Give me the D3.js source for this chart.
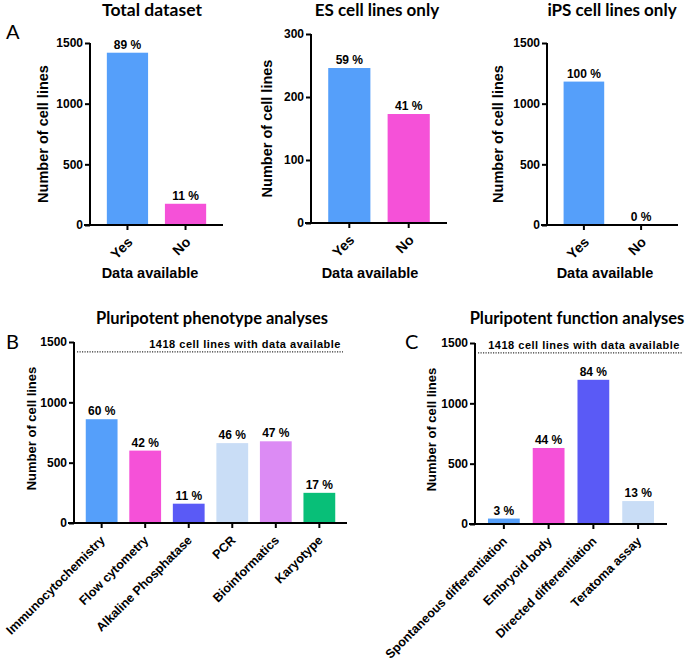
<!DOCTYPE html>
<html><head><meta charset="utf-8">
<script src="https://cdn.jsdelivr.net/npm/d3@7"></script>
<style>
html,body{margin:0;padding:0;background:#fff;}
svg{display:block;}
.tick text{font-family:"Liberation Sans",Arial,sans-serif;font-weight:bold;font-size:12px;fill:#000;}
</style></head>
<body>
<svg id="chart" width="685" height="664"></svg>
<script>
// ---------- data ----------
const availCats = ["Yes", "No"];
const totalValues = [1420, 175];
const totalPct = ["89 %", "11 %"];
const esValues = [246, 173];
const esPct = ["59 %", "41 %"];
const ipsValues = [1182, 0];
const ipsPct = ["100 %", "0 %"];

const phenoCats = ["Immunocytochemistry", "Flow cytometry", "Alkaline Phosphatase", "PCR", "Bioinformatics", "Karyotype"];
const phenoValues = [860, 600, 160, 662, 677, 250];
const phenoPct = ["60 %", "42 %", "11 %", "46 %", "47 %", "17 %"];

const funcCats = ["Spontaneous differentiation", "Embryoid body", "Directed differentiation", "Teratoma assay"];
const funcValues = [45, 630, 1195, 190];
const funcPct = ["3 %", "44 %", "84 %", "13 %"];

const refValue = 1418;
const refLabel = "1418 cell lines with data available";
const ticks1500 = [0, 500, 1000, 1500];
const ticks300 = [0, 100, 200, 300];

// ---------- styles ----------
const C_BLUE = "#559ffa", C_PINK = "#f551d8", C_INDIGO = "#5a5af6",
      C_PALE = "#c9ddf6", C_LAV = "#dc8bf4", C_GREEN = "#08bf78";
const ARIAL = "'Liberation Sans', Arial, sans-serif";
const TITLEF = "Lato, 'Open Sans', sans-serif";

const svg = d3.select("#chart");

function panel(o) {
  const g = svg.append("g");
  const x = d3.scaleBand().domain(o.cats).range([o.x0, o.x1]).padding(o.pad);
  const y = d3.scaleLinear().domain([0, o.ymax]).range([o.y0, o.y1]);

  // bars
  g.selectAll("rect.bar").data(o.values).join("rect")
    .attr("class", "bar")
    .attr("x", (d, i) => x(o.cats[i]))
    .attr("width", x.bandwidth())
    .attr("y", d => y(d))
    .attr("height", d => y(0) - y(d))
    .attr("fill", (d, i) => o.colors[i]);

  // percentage labels
  g.selectAll("text.pct").data(o.values).join("text")
    .attr("class", "pct")
    .attr("x", (d, i) => x(o.cats[i]) + x.bandwidth() / 2)
    .attr("y", d => y(d) - 4)
    .attr("text-anchor", "middle")
    .attr("font-family", ARIAL).attr("font-weight", "bold").attr("font-size", 12)
    .text((d, i) => o.pct[i]);

  // reference line
  if (o.ref) {
    g.append("line")
      .attr("x1", o.x0 + 3).attr("x2", o.refEnd)
      .attr("y1", y(refValue)).attr("y2", y(refValue))
      .attr("stroke", "#000").attr("stroke-width", 1).attr("stroke-dasharray", "1.2,1.3");
    g.append("text")
      .attr("x", o.refTextEnd).attr("y", y(refValue) - 4)
      .attr("text-anchor", "end")
      .attr("font-family", ARIAL).attr("font-weight", "bold").attr("font-size", 11)
      .attr("letter-spacing", "0.5px")
      .text(refLabel);
  }

  // y axis
  const ya = g.append("g").attr("transform", `translate(${o.x0},0)`)
    .call(d3.axisLeft(y).tickValues(o.ticks).tickSize(5).tickPadding(2).tickFormat(d3.format("d")));
  ya.select(".domain").attr("stroke-width", 2).attr("d", `M0,${o.y0 + 1}V${o.y1}`);
  ya.selectAll(".tick line").attr("stroke-width", 2);

  // x axis
  const xa = g.append("g").attr("transform", `translate(0,${o.y0})`)
    .call(d3.axisBottom(x).tickSize(5).tickFormat(""));
  xa.select(".domain").attr("stroke-width", 2).attr("d", `M${o.x0 - 6},0H${o.x1}`);
  xa.selectAll(".tick line").attr("stroke-width", 2);

  // rotated category labels
  g.selectAll("text.cat").data(o.cats).join("text")
    .attr("class", "cat")
    .attr("transform", d => `translate(${x(d) + x.bandwidth() / 2 + o.ldx},${o.y0 + o.ldy}) rotate(-45)`)
    .attr("text-anchor", "end")
    .attr("font-family", ARIAL).attr("font-weight", "bold").attr("font-size", o.catSize)
    .text(d => d);

  // y title
  g.append("text")
    .attr("transform", `translate(${o.ytx},${(o.y0 + o.y1) / 2 + o.ytdy}) rotate(-90)`)
    .attr("text-anchor", "middle")
    .attr("font-family", ARIAL).attr("font-weight", "bold").attr("font-size", o.ytSize)
    .text("Number of cell lines");

  // x title
  if (o.xTitle) {
    g.append("text")
      .attr("x", o.xtx).attr("y", o.xty)
      .attr("text-anchor", "middle")
      .attr("font-family", ARIAL).attr("font-weight", "bold").attr("font-size", 14.5)
      .text(o.xTitle);
  }

  // panel title
  g.append("text")
    .attr("x", o.tx).attr("y", o.ty)
    .attr("text-anchor", "middle")
    .attr("font-family", TITLEF).attr("font-weight", "bold").attr("font-size", o.tSize)
    .text(o.title);

  if (o.letter) {
    g.append("text")
      .attr("x", o.lx).attr("y", o.ly)
      .attr("font-family", TITLEF).attr("font-size", 20)
      .text(o.letter);
  }
}

panel({cats: availCats, values: totalValues, pct: totalPct, colors: [C_BLUE, C_PINK],
  x0: 90, x1: 223, y0: 225, y1: 43, ymax: 1500, ticks: ticks1500, pad: 0.29,
  ldx: 6, ldy: 18, catSize: 14, ytx: 48, ytdy: 0, ytSize: 14.5,
  xTitle: "Data available", xtx: 150, xty: 278,
  title: "Total dataset", tx: 152, ty: 16, tSize: 17.5, letter: "A", lx: 6, ly: 39});

panel({cats: availCats, values: esValues, pct: esPct, colors: [C_BLUE, C_PINK],
  x0: 311, x1: 447, y0: 223, y1: 34, ymax: 300, ticks: ticks300, pad: 0.29,
  ldx: 6, ldy: 18, catSize: 14, ytx: 272, ytdy: 0, ytSize: 14.5,
  xTitle: "Data available", xtx: 370, xty: 278,
  title: "ES cell lines only", tx: 377, ty: 16, tSize: 17});

panel({cats: availCats, values: ipsValues, pct: ipsPct, colors: [C_BLUE, C_PINK],
  x0: 547, x1: 678, y0: 225, y1: 43, ymax: 1500, ticks: ticks1500, pad: 0.29,
  ldx: 6, ldy: 18, catSize: 14, ytx: 503, ytdy: 0, ytSize: 14.5,
  xTitle: "Data available", xtx: 605, xty: 278,
  title: "iPS cell lines only", tx: 612, ty: 16, tSize: 17});

panel({cats: phenoCats, values: phenoValues, pct: phenoPct,
  colors: [C_BLUE, C_PINK, C_INDIGO, C_PALE, C_LAV, C_GREEN],
  x0: 74, x1: 347, y0: 523, y1: 342, ymax: 1500, ticks: ticks1500, pad: 0.27,
  ldx: 4, ldy: 18, catSize: 12.5, ytx: 36, ytdy: -4, ytSize: 13,
  ref: true, refEnd: 343, refTextEnd: 341,
  title: "Pluripotent phenotype analyses", tx: 212, ty: 324, tSize: 16.5, letter: "B", lx: 6, ly: 349});

panel({cats: funcCats, values: funcValues, pct: funcPct,
  colors: [C_BLUE, C_PINK, C_INDIGO, C_PALE],
  x0: 475, x1: 667, y0: 524, y1: 343, ymax: 1500, ticks: ticks1500, pad: 0.29,
  ldx: 4, ldy: 18, catSize: 12.5, ytx: 436, ytdy: -4, ytSize: 13,
  ref: true, refEnd: 682, refTextEnd: 680,
  title: "Pluripotent function analyses", tx: 577, ty: 324, tSize: 16.5, letter: "C", lx: 405, ly: 349});
</script>
</body></html>
